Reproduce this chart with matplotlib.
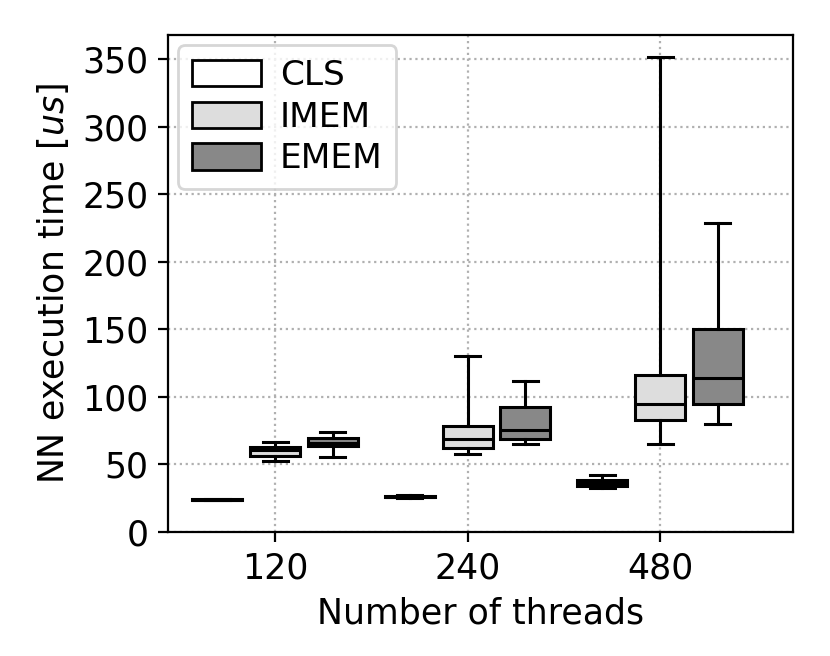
import matplotlib
matplotlib.use('Agg')
import matplotlib.pyplot as plt
from matplotlib.patches import Patch

# ============= Data
threads = ['120', '240', '480']
series = ['CLS', 'IMEM', 'EMEM']
colors = ['#ffffff', '#dddddd', '#888888']

# per series: one value per thread count
cls_whislo = [23.4, 25.2, 32.8]
cls_q1 = [23.6, 25.8, 34.0]
cls_med = [23.8, 26.2, 36.0]
cls_q3 = [24.1, 26.6, 38.2]
cls_whishi = [24.3, 27.2, 42.5]

imem_whislo = [52.5, 58.0, 65.0]
imem_q1 = [56.2, 62.4, 82.7]
imem_med = [60.4, 69.0, 95.0]
imem_q3 = [62.9, 78.5, 116.0]
imem_whishi = [67.0, 130.0, 351.5]

emem_whislo = [55.4, 64.9, 79.7]
emem_q1 = [63.6, 68.6, 94.6]
emem_med = [66.1, 75.8, 113.7]
emem_q3 = [69.8, 92.6, 150.0]
emem_whishi = [74.0, 111.7, 228.5]

stats_cols = [
    (cls_whislo, cls_q1, cls_med, cls_q3, cls_whishi),
    (imem_whislo, imem_q1, imem_med, imem_q3, imem_whishi),
    (emem_whislo, emem_q1, emem_med, emem_q3, emem_whishi),
]

# ============= Layout
offsets = [-0.3, 0.0, 0.3]
boxWidth = 0.26
fontSize = 12.5
lw = 1.1

fig = plt.figure(figsize=(4.15, 3.28), dpi=200)
ax = fig.add_axes([0.2024, 0.189, 0.7530, 0.7576])
ax.set_axisbelow(True)
ax.grid(True, linestyle=':', color='#b0b0b0', linewidth=0.8)

for s, (lo, q1, med, q3, hi) in enumerate(stats_cols):
    stats = []
    for i in range(len(threads)):
        stats.append({'whislo': lo[i], 'q1': q1[i], 'med': med[i],
                      'q3': q3[i], 'whishi': hi[i], 'fliers': []})
    pos = [i + 1 + offsets[s] for i in range(len(threads))]
    ax.bxp(stats, positions=pos, widths=boxWidth, patch_artist=True,
           showfliers=False, manage_ticks=False,
           boxprops=dict(facecolor=colors[s], edgecolor='black', linewidth=lw),
           medianprops=dict(color='black', linewidth=lw),
           whiskerprops=dict(color='black', linewidth=lw),
           capprops=dict(color='black', linewidth=lw))

ax.set_xticks(range(1, len(threads) + 1))
ax.set_xticklabels(threads)
ax.set_xlim(0.444, 3.69)
ax.set_ylim(0, 368)
ax.set_yticks(range(0, 351, 50))
ax.tick_params(labelsize=fontSize)

ax.set_xlabel('Number of threads', fontsize=fontSize)
ax.set_ylabel('NN execution time [$us$]', fontsize=fontSize)

handles = [Patch(facecolor=c, edgecolor='black', label=n) for c, n in zip(colors, series)]
ax.legend(handles=handles, loc='upper left', fontsize=12.4, labelspacing=0.25,
          handleheight=0.8, handletextpad=0.55, borderaxespad=0.3)

fig.savefig('out.png', dpi=200)
